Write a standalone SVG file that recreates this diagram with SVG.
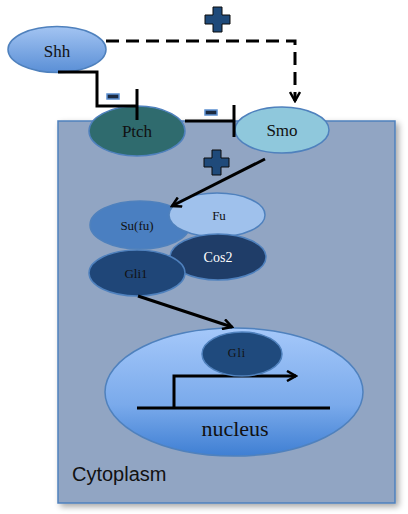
<svg xmlns="http://www.w3.org/2000/svg" width="408" height="514" viewBox="0 0 408 514">
<defs>
<linearGradient id="gBlue" x1="0" y1="0" x2="0" y2="1">
<stop offset="0" stop-color="#a3c4f2"/><stop offset="1" stop-color="#5a8fd6"/>
</linearGradient>
<linearGradient id="gNuc" x1="0" y1="0" x2="0" y2="1">
<stop offset="0" stop-color="#a5c8fa"/><stop offset="0.6" stop-color="#7aaaeb"/><stop offset="1" stop-color="#3f7fd3"/>
</linearGradient>
<filter id="sh" x="-10%" y="-10%" width="125%" height="125%">
<feGaussianBlur in="SourceAlpha" stdDeviation="3"/><feOffset dx="3" dy="3"/>
<feComponentTransfer><feFuncA type="linear" slope="0.35"/></feComponentTransfer>
<feMerge><feMergeNode/><feMergeNode in="SourceGraphic"/></feMerge>
</filter>
<marker id="arr" viewBox="0 0 12 12" refX="10" refY="6" markerWidth="12" markerHeight="12" markerUnits="userSpaceOnUse" orient="auto">
<path d="M1,1 L10,6 L1,11" fill="none" stroke="#000" stroke-width="2.5"/>
</marker>
</defs>
<style>
.node{stroke:#4f81bd;stroke-width:1.5}
.lbl{font-family:"Liberation Serif",serif;text-anchor:middle;dominant-baseline:central;fill:#111}
.ln{fill:none;stroke:#000;stroke-width:3}
.minus{fill:#1b2a40;stroke:#5b8fd0;stroke-width:1.5}
.plus{fill:#1f4a7a;stroke:#0a0a0a;stroke-width:1}
</style>
<g id="cytoplasm">
<rect x="58" y="121" width="337" height="382" fill="#91a5c3" stroke="#4f81bd" stroke-width="1.5" filter="url(#sh)"/>
<text x="72" y="481" font-family="'Liberation Sans',Arial,sans-serif" font-size="20" fill="#111">Cytoplasm</text>
</g>
<g id="nucleus">
<ellipse cx="234" cy="392" rx="129" ry="64" fill="url(#gNuc)" class="node"/>
<text x="235" y="428" class="lbl" font-size="22">nucleus</text>
</g>
<g id="gene">
<path class="ln" d="M137,408 H330"/>
<path class="ln" d="M174,408 V376 H296" marker-end="url(#arr)"/>
</g>
<g id="shh">
<ellipse cx="57" cy="49.5" rx="49" ry="23" fill="url(#gBlue)" class="node"/>
<text x="57" y="51" class="lbl" font-size="17">Shh</text>
</g>
<g id="ptch">
<ellipse cx="137" cy="131" rx="48" ry="25" fill="#2f6b6e" class="node"/>
<text x="137" y="131" class="lbl" font-size="17">Ptch</text>
</g>
<g id="smo">
<ellipse cx="282" cy="130" rx="47" ry="23" fill="#8fc8dc" class="node"/>
<text x="282" y="130" class="lbl" font-size="17">Smo</text>
</g>
<g id="sufu">
<ellipse cx="140" cy="225" rx="50" ry="24" fill="#4a7fc1" class="node"/>
<text x="137" y="225" class="lbl" font-size="13">Su(fu)</text>
</g>
<g id="fu">
<ellipse cx="217" cy="215" rx="48" ry="22" fill="#9fc1ec" class="node"/>
<text x="219" y="215" class="lbl" font-size="13">Fu</text>
</g>
<g id="cos2">
<ellipse cx="218" cy="257" rx="48" ry="23" fill="#1f3d68" class="node"/>
<text x="218" y="257" class="lbl" font-size="14" style="fill:#fff">Cos2</text>
</g>
<g id="gli1">
<ellipse cx="137" cy="273" rx="48" ry="23" fill="#1f4678" class="node"/>
<text x="136" y="273" class="lbl" font-size="13">Gli1</text>
</g>
<g id="gli">
<ellipse cx="242" cy="354" rx="40" ry="22" fill="#1f4a7d" class="node"/>
<text x="237" y="353" class="lbl" font-size="12" letter-spacing="1">Gli</text>
</g>
<g id="connectors">
<path class="ln" d="M106,41 H295 V101" stroke-dasharray="13,7" marker-end="url(#arr)"/>
<path class="ln" d="M58,72 H97 V106 H137"/>
<path class="ln" d="M137,89 V120"/>
<rect class="minus" x="107" y="94" width="12" height="5"/>
<path class="ln" d="M185,121 H234"/>
<path class="ln" d="M234,105 V137"/>
<rect class="minus" x="205" y="110" width="12" height="5"/>
<path class="ln" d="M265,159 L172,206" marker-end="url(#arr)"/>
<path class="ln" d="M138,296 L232,327" marker-end="url(#arr)"/>
<path class="plus" d="M213,7 h9 v8 h8 v9 h-8 v8 h-9 v-8 h-8 v-9 h8 z"/>
<path class="plus" d="M212,150 h9 v8 h8 v9 h-8 v8 h-9 v-8 h-8 v-9 h8 z"/>
</g>
</svg>
